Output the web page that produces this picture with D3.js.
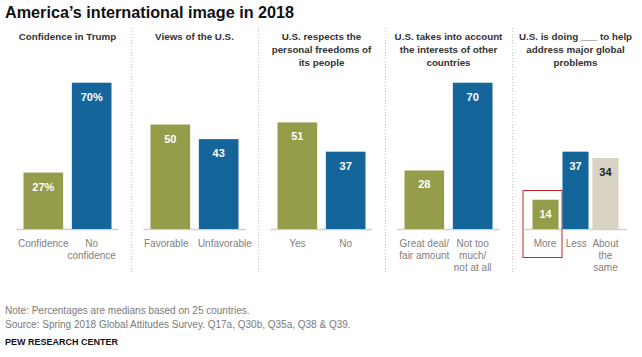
<!DOCTYPE html>
<html><head><meta charset="utf-8">
<script src="https://cdn.jsdelivr.net/npm/d3@7"></script>
<style>
body{margin:0;background:#fff;}
svg{display:block;font-family:"Liberation Sans",Arial,sans-serif;}
</style></head>
<body>
<svg id="chart" width="642" height="357"></svg>
<script>
const panelTitles = [
  ["Confidence in Trump"],
  ["Views of the U.S."],
  ["U.S. respects the", "personal freedoms of", "its people"],
  ["U.S. takes into account", "the interests of other", "countries"],
  ["U.S. is doing ___ to help", "address major global", "problems"]
];
const categories = [
  [["Confidence"], ["No", "confidence"]],
  [["Favorable"], ["Unfavorable"]],
  [["Yes"], ["No"]],
  [["Great deal/", "fair amount"], ["Not too", "much/", "not at all"]],
  [["More"], ["Less"], ["About", "the", "same"]]
];
const values = [
  [27, 70],
  [50, 43],
  [51, 37],
  [28, 70],
  [14, 37, 34]
];
const valueSuffix = ["%", "", "", "", ""];
const barColors = [
  ["green", "blue"], ["green", "blue"], ["green", "blue"], ["green", "blue"], ["green", "blue", "beige"]
];
const colorMap = {green: "#959c4a", blue: "#14659a", beige: "#d8d3c3"};
const labelColorMap = {green: "#fff", blue: "#fff", beige: "#222"};

const svg = d3.select("#chart");

svg.append("text").attr("x", 5).attr("y", 18)
  .attr("font-size", 16.2).attr("font-weight", "bold").attr("fill", "#111")
  .text("America\u2019s international image in 2018");

const panelCenter = d3.scaleLinear().domain([0, 1]).range([67.5, 194.5]);
const y = d3.scaleLinear().domain([0, 100]).range([229, 20]);

values.forEach((vals, p) => {
  const c = panelCenter(p);
  const g = svg.append("g");
  const t = g.append("text").attr("text-anchor", "middle")
    .attr("font-size", 9.8).attr("font-weight", "bold").attr("fill", "#333");
  panelTitles[p].forEach((line, i) => {
    t.append("tspan").attr("x", c).attr("y", 40 + i * 13).text(line);
  });
  const n = vals.length;
  const half = n === 3 ? 43 : 44;
  const x = d3.scaleBand().domain(d3.range(n)).range([c - half, c + half])
    .paddingInner(n === 3 ? 0.13 : 0.18);
  g.append("line").attr("x1", c - 51).attr("x2", c + 51)
    .attr("y1", y(0) + 0.5).attr("y2", y(0) + 0.5)
    .attr("stroke", "#d0d0d0").attr("stroke-width", 1.5);
  const catTexts = [];
  vals.forEach((v, i) => {
    const col = barColors[p][i];
    g.append("rect").attr("x", x(i)).attr("width", x.bandwidth())
      .attr("y", y(v)).attr("height", y(0) - y(v)).attr("fill", colorMap[col]);
    g.append("text").attr("x", x(i) + x.bandwidth() / 2).attr("y", y(v) + 18)
      .attr("text-anchor", "middle").attr("font-size", 11).attr("font-weight", "bold")
      .attr("fill", labelColorMap[col]).text(v + valueSuffix[p]);
    const cx = x(i) + x.bandwidth() / 2;
    const ct = g.append("text").attr("text-anchor", "middle")
      .attr("font-size", 10).attr("fill", "#808080");
    categories[p][i].forEach((line, j) => {
      ct.append("tspan").attr("x", cx).attr("y", 247 + j * 12).text(line);
    });
    catTexts.push({node: ct, cx: cx});
    if (p === 4 && i === 0) {
      g.append("rect").attr("x", x(i) - 9.5).attr("y", 190.5)
        .attr("width", 39).attr("height", 67)
        .attr("fill", "none").attr("stroke", "#c1272d").attr("stroke-width", 1);
    }
  });
  // push apart overlapping single-line labels
  for (let i = 0; i < catTexts.length - 1; i++) {
    const a = catTexts[i], b = catTexts[i + 1];
    const wa = a.node.node().getBBox().width, wb = b.node.node().getBBox().width;
    const overlap = (a.cx + wa / 2 + 9) - (b.cx - wb / 2);
    if (overlap > 0 && categories[p][i].length === 1 && categories[p][i + 1].length === 1) {
      a.cx -= overlap * 0.4; b.cx += overlap * 0.6;
      a.node.selectAll("tspan").attr("x", a.cx);
      b.node.selectAll("tspan").attr("x", b.cx);
    }
  }
  if (p < values.length - 1) {
    const sx = Math.round(c + 63.5) + 0.5;
    svg.append("line").attr("x1", sx).attr("x2", sx).attr("y1", 28).attr("y2", 273)
      .attr("stroke", "#c8c8c8").attr("stroke-width", 1).attr("stroke-dasharray", "1,2");
  }
});

svg.append("text").attr("x", 5).attr("y", 314).attr("font-size", 10).attr("fill", "#7a7a7a")
  .text("Note: Percentages are medians based on 25 countries.");
svg.append("text").attr("x", 5).attr("y", 327.5).attr("font-size", 10).attr("fill", "#7a7a7a")
  .text("Source: Spring 2018 Global Attitudes Survey. Q17a, Q30b, Q35a, Q38 & Q39.");
svg.append("text").attr("x", 5).attr("y", 345).attr("font-size", 9).attr("font-weight", "bold").attr("fill", "#111")
  .text("PEW RESEARCH CENTER");
</script>
</body></html>
